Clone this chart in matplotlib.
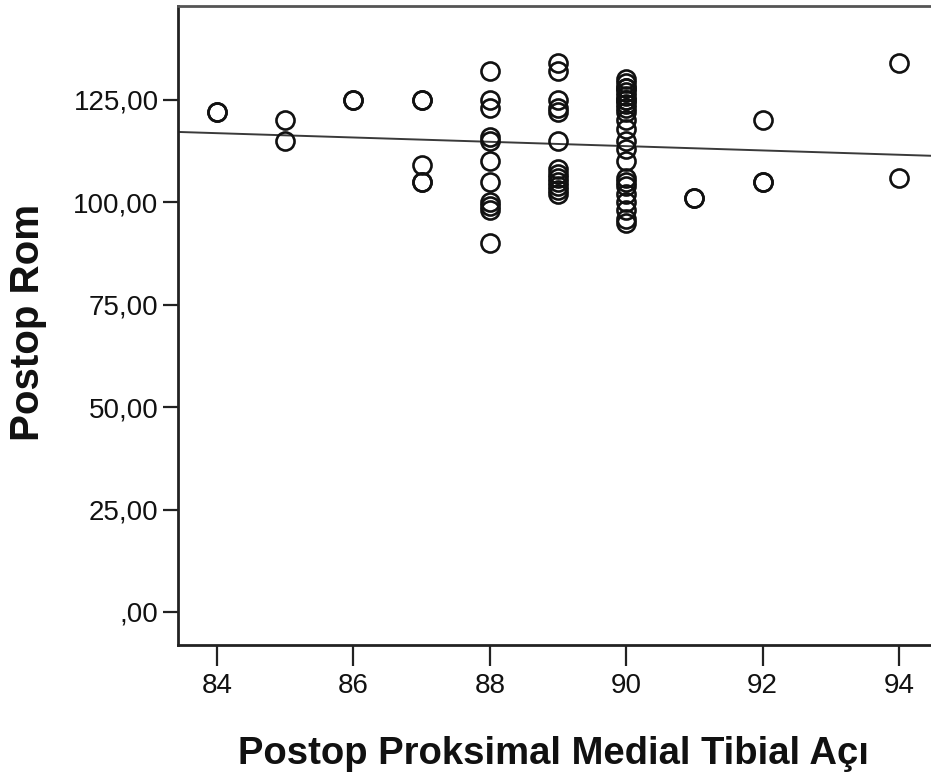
import matplotlib
matplotlib.use("Agg")
import matplotlib.pyplot as plt
import numpy as np

# Postoperative proximal medial tibial angle vs postoperative range of motion
angle = [84, 84,
         85, 85,
         86, 86,
         87, 87, 87, 87, 87,
         88, 88, 88, 88, 88, 88, 88, 88, 88, 88, 88,
         89, 89, 89, 89, 89, 89, 89, 89, 89, 89, 89, 89, 89,
         90, 90, 90, 90, 90, 90, 90, 90, 90, 90, 90, 90, 90, 90, 90, 90, 90, 90, 90, 90, 90,
         90, 90, 90,
         91, 91,
         92, 92, 92,
         94, 94]
rom = [122, 122,
       120, 115,
       125, 125,
       125, 125, 109, 105, 105,
       132, 125, 123, 116, 115, 110, 105, 100, 99, 98, 90,
       134, 132, 125, 123, 122, 115, 108, 107, 106, 105, 104, 103, 102,
       130, 129, 128, 127, 126, 125, 124, 122, 120, 118, 115, 113, 110, 106, 105, 104, 102, 100, 98, 96, 95,
       128, 125, 123,
       101, 101,
       120, 105, 105,
       134, 106]

x_ticks = [84, 86, 88, 90, 92, 94]
y_ticks = [0, 25, 50, 75, 100, 125]
y_tick_labels = [",00", "25,00", "50,00", "75,00", "100,00", "125,00"]

plt.rcParams["font.family"] = ["Liberation Sans", "DejaVu Sans"]

W, H = 931, 780
fig = plt.figure(figsize=(W / 100, H / 100), dpi=100)
ax = fig.add_axes([178 / W, 1 - 645 / H, (938 - 178) / W, (645 - 6) / H])

xlim = (83.43, 94.57)
ylim = (-8.06, 147.9)
ax.set_xlim(*xlim)
ax.set_ylim(*ylim)

ax.plot(angle, rom, linestyle="none", marker="o", markersize=13,
        markerfacecolor="none", markeredgecolor="#111111", markeredgewidth=1.9,
        zorder=3)

# Linear fit line across the full axis width
slope, intercept = np.polyfit(angle, rom, 1)
xs = np.array(xlim)
ax.plot(xs, intercept + slope * xs, color="#3a3a3a", linewidth=1.4, zorder=2)

ax.set_xticks(x_ticks)
ax.set_xticklabels([str(t) for t in x_ticks])
ax.set_yticks(y_ticks)
ax.set_yticklabels(y_tick_labels)

for side in ["left", "bottom", "top", "right"]:
    ax.spines[side].set_linewidth(2.0)
    ax.spines[side].set_color("#222222")
ax.spines["top"].set_color("#555555")

ax.tick_params(axis="y", direction="out", length=11, width=1.6, pad=3,
               labelsize=20, colors="#222222", labelcolor="#111111")
ax.tick_params(axis="x", direction="out", length=15, width=1.6, pad=5,
               labelsize=20, colors="#222222", labelcolor="#111111")

fig.text(28 / W, 1 - 322 / H, "Postop Rom", rotation=90, ha="center", va="center",
         fontsize=29, fontweight="bold", color="#111111")
fig.text(553 / W, 1 - 754 / H, "Postop Proksimal Medial Tibial Açı", ha="center",
         va="center", fontsize=27.5, fontweight="bold", color="#111111")

fig.savefig("out.png", dpi=100)
